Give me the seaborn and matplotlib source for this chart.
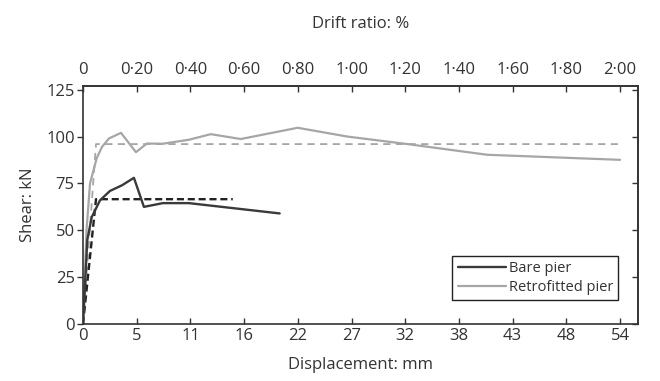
import matplotlib
matplotlib.use("Agg")
import matplotlib.pyplot as plt
import seaborn as sns
import pandas as pd
from matplotlib.lines import Line2D

# ---- data ----
bare_disp = [0, 0.43, 0.87, 1.7, 2.7, 3.9, 5.1, 6.1, 8.0, 10.6, 19.7]
bare_shear = [0, 45, 57, 66, 71, 74, 78, 62.5, 64.5, 64.5, 59]

retro_disp = [0, 0.35, 0.7, 1.37, 1.9, 2.6, 3.8, 5.3, 6.4, 8.0, 10.6, 12.8,
              15.8, 21.5, 26.5, 32.5, 40.5, 53.8]
retro_shear = [0, 50, 75, 88.5, 94.5, 99, 102, 91.7, 96.3, 96.2, 98.3, 101.3,
               98.7, 104.7, 100, 96, 90.3, 87.6]

bare_bilin_disp = [0, 1.3, 15.0]
bare_bilin_shear = [0, 66.6, 66.6]
retro_bilin_disp = [0, 1.3, 53.8]
retro_bilin_shear = [0, 96, 96]

drift_ticks = [0, 0.2, 0.4, 0.6, 0.8, 1.0, 1.2, 1.4, 1.6, 1.8, 2.0]
drift_labels = ["0", "0·20", "0·40", "0·60", "0·80", "1·00", "1·20",
                "1·40", "1·60", "1·80", "2·00"]
disp_labels = ["0", "5", "11", "16", "22", "27", "32", "38", "43", "48", "54"]
shear_ticks = [0, 25, 50, 75, 100, 125]
pier_height_factor = 26.9  # mm per 1 % drift

sns.set_style("ticks")
plt.rcParams["font.family"] = ["Open Sans", "DejaVu Sans"]
ink = "#333333"
plt.rcParams["axes.edgecolor"] = ink
plt.rcParams["xtick.color"] = ink
plt.rcParams["ytick.color"] = ink
plt.rcParams["text.color"] = ink
plt.rcParams["axes.labelcolor"] = ink

FS = 12

fig = plt.figure(figsize=(6.6, 3.81), dpi=100)
ax = fig.add_axes([0.1258, 0.1496, 0.8409, 0.6247])

dark = "#3a3a3a"
light = "#a6a6a6"

df_bare = pd.DataFrame({"d": bare_disp, "v": bare_shear})
df_retro = pd.DataFrame({"d": retro_disp, "v": retro_shear})
df_bb = pd.DataFrame({"d": bare_bilin_disp, "v": bare_bilin_shear})
df_rb = pd.DataFrame({"d": retro_bilin_disp, "v": retro_bilin_shear})

sns.lineplot(data=df_rb, x="d", y="v", ax=ax, sort=False, color=light,
             lw=1.3, linestyle=(0, (4, 3)))
sns.lineplot(data=df_bb, x="d", y="v", ax=ax, sort=False, color="#222222",
             lw=1.7, linestyle=(0, (3, 1.6)))
sns.lineplot(data=df_retro, x="d", y="v", ax=ax, sort=False, color=light, lw=1.6)
sns.lineplot(data=df_bare, x="d", y="v", ax=ax, sort=False, color=dark, lw=1.7)

ax.set_xlim(0, 55.6)
ax.set_ylim(0, 127)

tick_pos = [t * pier_height_factor for t in drift_ticks]
ax.set_xticks(tick_pos)
ax.set_xticklabels(disp_labels)
ax.set_yticks(shear_ticks)
ax.set_yticklabels([str(t) for t in shear_ticks])
ax.tick_params(axis="x", direction="in", length=4, width=1, labelsize=FS, pad=3)
ax.tick_params(axis="y", direction="out", length=4, width=1, labelsize=FS, pad=2)

ax.set_xlabel("Displacement: mm", fontsize=FS, labelpad=9)
ax.set_ylabel("Shear: kN", fontsize=FS, labelpad=7)

top = ax.secondary_xaxis("top", functions=(lambda x: x / pier_height_factor,
                                           lambda d: d * pier_height_factor))
top.set_xticks(drift_ticks)
top.set_xticklabels(drift_labels)
top.tick_params(axis="x", direction="in", length=4, width=1, labelsize=FS, pad=6)
top.set_xlabel("Drift ratio: %", fontsize=FS, labelpad=24)

right = ax.secondary_yaxis("right")
right.set_yticks(shear_ticks)
right.tick_params(axis="y", direction="in", length=4, width=1, labelright=False)

for s in ax.spines.values():
    s.set_linewidth(1.2)
    s.set_color(ink)
top.spines["top"].set_linewidth(1.2)
top.spines["top"].set_color(ink)
right.spines["right"].set_linewidth(1.2)
right.spines["right"].set_color(ink)

handles = [Line2D([], [], color=dark, lw=1.7), Line2D([], [], color=light, lw=1.6)]
leg = ax.legend(handles, ["Bare pier", "Retrofitted pier"], loc="lower right",
                bbox_to_anchor=(0.964, 0.1), fontsize=10.5, frameon=True,
                fancybox=False, edgecolor="#222222", framealpha=1,
                handlelength=3.3, handletextpad=0.2, borderpad=0.35,
                labelspacing=0.25, borderaxespad=0.0)
leg.get_frame().set_linewidth(1.0)

fig.savefig("out.png", dpi=100)
